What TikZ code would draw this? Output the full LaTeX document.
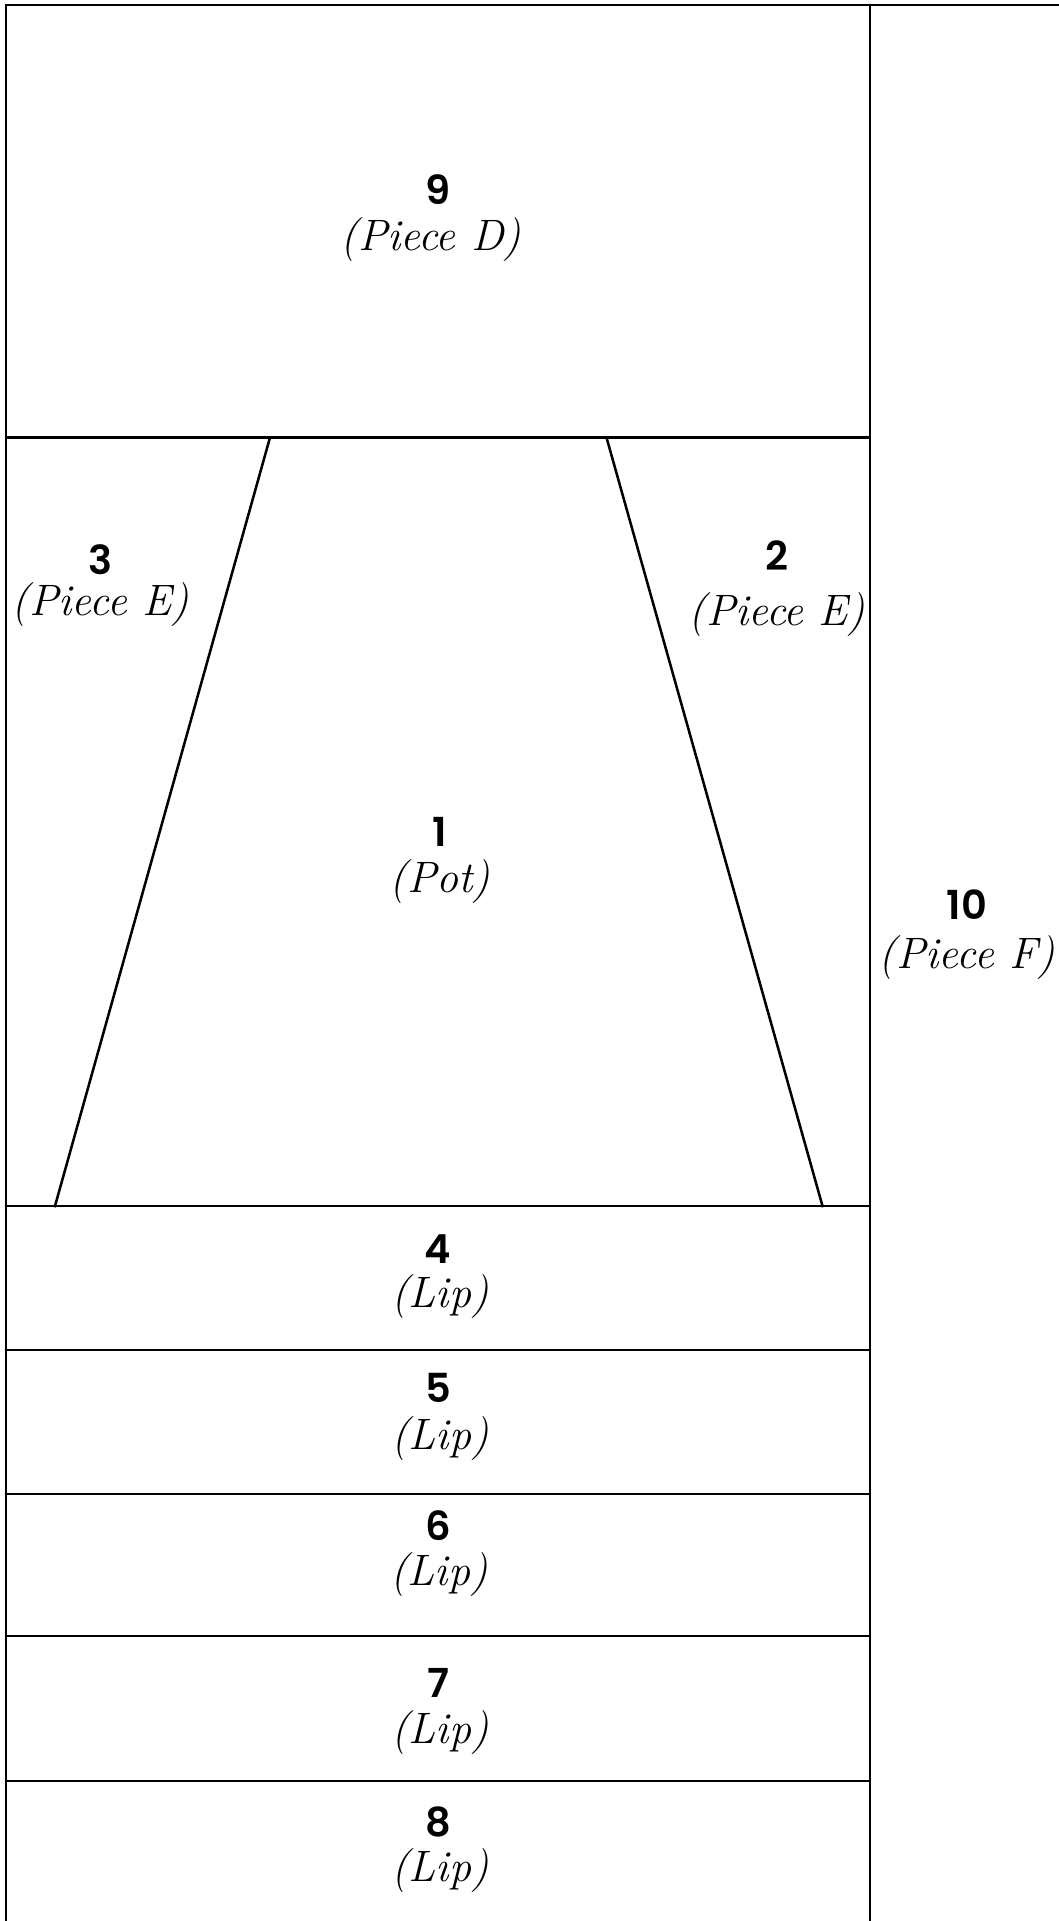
\documentclass[tikz,border=0pt]{standalone}
\usepackage{fontspec}
\newfontfamily\numfont{Poppins}[UprightFont={* SemiBold}]
\tikzset{
  edge/.style={line width=1.9pt, line cap=rect},
  outer/.style={line width=2.2pt, line cap=rect},
  num/.style={font=\numfont\fontsize{30}{32}\selectfont, inner sep=0pt, anchor=center},
  lbl/.style={font=\itshape\fontsize{33}{36}\selectfont, inner sep=0pt, anchor=center},
}
\begin{document}
\begin{tikzpicture}[x=0.75pt,y=-0.75pt]
\useasboundingbox (0,0) rectangle (1059,1921);
% frame coordinates
\coordinate (TL) at (6,5);
\coordinate (TR) at (1059,5);
\coordinate (TM) at (870,5);
\coordinate (BL) at (6,1921);
\coordinate (BM) at (870,1921);
\coordinate (D1) at (6,437.5);   \coordinate (D2) at (870,437.5);
\coordinate (P1) at (6,1206);    \coordinate (P2) at (870,1206);
\coordinate (L1) at (6,1350);    \coordinate (L2) at (870,1350);
\coordinate (M1) at (6,1494);    \coordinate (M2) at (870,1494);
\coordinate (N1) at (6,1636);    \coordinate (N2) at (870,1636);
\coordinate (Q1) at (6,1781);    \coordinate (Q2) at (870,1781);
\coordinate (TA) at (270,437.5); \coordinate (TB) at (55,1206);
\coordinate (TC) at (606.5,437.5); \coordinate (TD) at (822.5,1206);
% outer lines
\draw[outer] (TL) -- (TR);
\draw[outer] (TL) -- (BL);
\draw[outer] (TM) -- (BM);
% inner lines
\draw[edge] (D1) -- (D2);
\draw[edge] (P1) -- (P2);
\draw[edge] (L1) -- (L2);
\draw[edge] (M1) -- (M2);
\draw[edge] (N1) -- (N2);
\draw[edge] (Q1) -- (Q2);
\draw[edge] (TA) -- (TB);
\draw[edge] (TC) -- (TD);
% labels
\node[num] (n9) at (438,190) {9};
\node[lbl] (l9) at (431,240) {(Piece D)};
\node[num] (n3) at (100.5,560) {3};
\node[lbl] (l3) at (100.5,605) {(Piece E)};
\node[num] (n2) at (777,556) {2};
\node[lbl] (l2) at (777,615) {(Piece E)};
\node[num] (n1) at (440,832) {1};
\node[lbl] (l1) at (440,882) {(Pot)};
\node[num] (n10) at (967,905) {10};
\node[lbl] (l10) at (967,958) {(Piece F)};
\node[num] (n4) at (438,1249) {4};
\node[lbl] (l4) at (440,1297) {(Lip)};
\node[num] (n5) at (438,1388) {5};
\node[lbl] (l5) at (440,1439) {(Lip)};
\node[num] (n6) at (438,1526) {6};
\node[lbl] (l6) at (439,1575) {(Lip)};
\node[num] (n7) at (438,1683) {7};
\node[lbl] (l7) at (440,1732) {(Lip)};
\node[num] (n8) at (438,1822) {8};
\node[lbl] (l8) at (440,1870) {(Lip)};
\end{tikzpicture}
\end{document}
